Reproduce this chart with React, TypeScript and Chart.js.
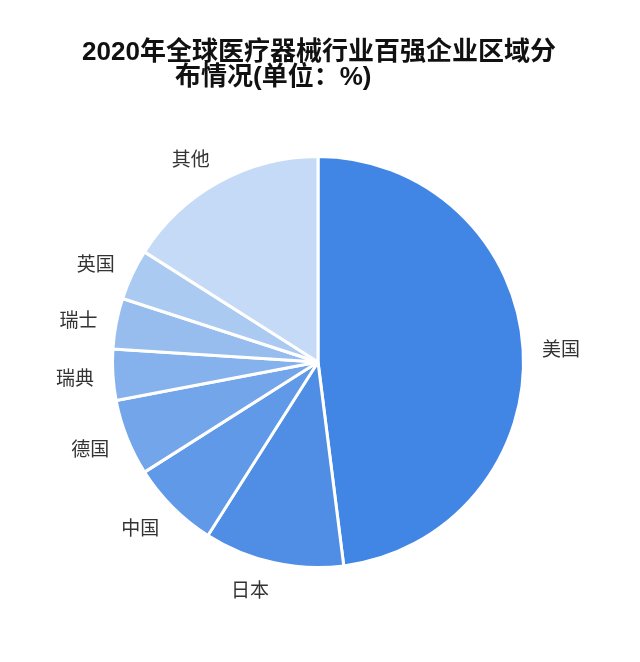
import React, { useEffect, useRef } from 'react';
import { Chart, registerables } from 'chart.js';

Chart.register(...registerables);

const regions = ['美国', '日本', '中国', '德国', '瑞典', '瑞士', '英国', '其他'];
const shares = [48, 11, 7, 6, 4, 4, 4, 16];
const sliceColors = [
  '#4286e5',
  '#4f8ee4',
  '#5f99e8',
  '#72a5ea',
  '#85b1ed',
  '#97bdef',
  '#aacaf2',
  '#c5daf6',
];
const titleLines = ['2020年全球医疗器械行业百强企业区域分', '布情况(单位：%)'];

const titleFont = 'bold 26px "Liberation Sans", "Noto Sans CJK SC", sans-serif';
const labelFont = '19px "Noto Sans CJK SC", sans-serif';

// titel zeichnen (zweite zeile sitzt links versetzt wie im original)
const titlePlugin = {
  id: 'oddTitle',
  afterDraw(chart: Chart) {
    const ctx = chart.ctx;
    ctx.save();
    ctx.font = titleFont;
    ctx.fillStyle = '#111111';
    ctx.textBaseline = 'middle';
    ctx.textAlign = 'center';
    ctx.fillText(titleLines[0], 319, 53);
    ctx.textAlign = 'left';
    ctx.fillText(titleLines[1], 175, 78);
    ctx.restore();
  },
};

// beschriftungen aussen, ohne linien
const outsideLabels = {
  id: 'outsideLabels',
  afterDatasetsDraw(chart: Chart) {
    const ctx = chart.ctx;
    const meta = chart.getDatasetMeta(0);
    ctx.save();
    ctx.font = labelFont;
    ctx.fillStyle = '#333333';
    ctx.textBaseline = 'middle';
    meta.data.forEach((el: any, i: number) => {
      const { x, y, startAngle, endAngle, outerRadius } = el.getProps(
        ['x', 'y', 'startAngle', 'endAngle', 'outerRadius'],
        true
      );
      const mid = (startAngle + endAngle) / 2;
      const rx = outerRadius + 19;
      const ry = outerRadius + 27;
      const px = x + Math.cos(mid) * rx;
      const py = y + Math.sin(mid) * ry + 1;
      ctx.textAlign = Math.cos(mid) >= 0 ? 'left' : 'right';
      ctx.fillText(regions[i], px, py);
    });
    ctx.restore();
  },
};

export default function App() {
  const chartRef = useRef<HTMLCanvasElement>(null);
  const chartInstance = useRef<Chart | null>(null);

  useEffect(() => {
    if (!chartRef.current) return;
    if (chartInstance.current) {
      chartInstance.current.destroy();
    }
    const ctx = chartRef.current.getContext('2d');
    if (!ctx) return;

    chartInstance.current = new Chart(ctx, {
      type: 'pie',
      data: {
        labels: regions,
        datasets: [
          {
            data: shares,
            backgroundColor: sliceColors,
            borderColor: '#ffffff',
            borderWidth: 3,
          },
        ],
      },
      options: {
        responsive: false,
        animation: false,
        layout: {
          padding: { left: 111, right: 115, top: 155, bottom: 93 },
        },
        plugins: {
          legend: { display: false },
          title: { display: false },
          tooltip: { enabled: false },
        },
      },
      plugins: [titlePlugin, outsideLabels],
    });

    return () => {
      if (chartInstance.current) {
        chartInstance.current.destroy();
        chartInstance.current = null;
      }
    };
  }, []);

  return (
    <div style={{ position: 'absolute', left: 0, top: 0, width: 640, height: 662, background: '#fff' }}>
      <canvas ref={chartRef} width={640} height={662}></canvas>
    </div>
  );
}
